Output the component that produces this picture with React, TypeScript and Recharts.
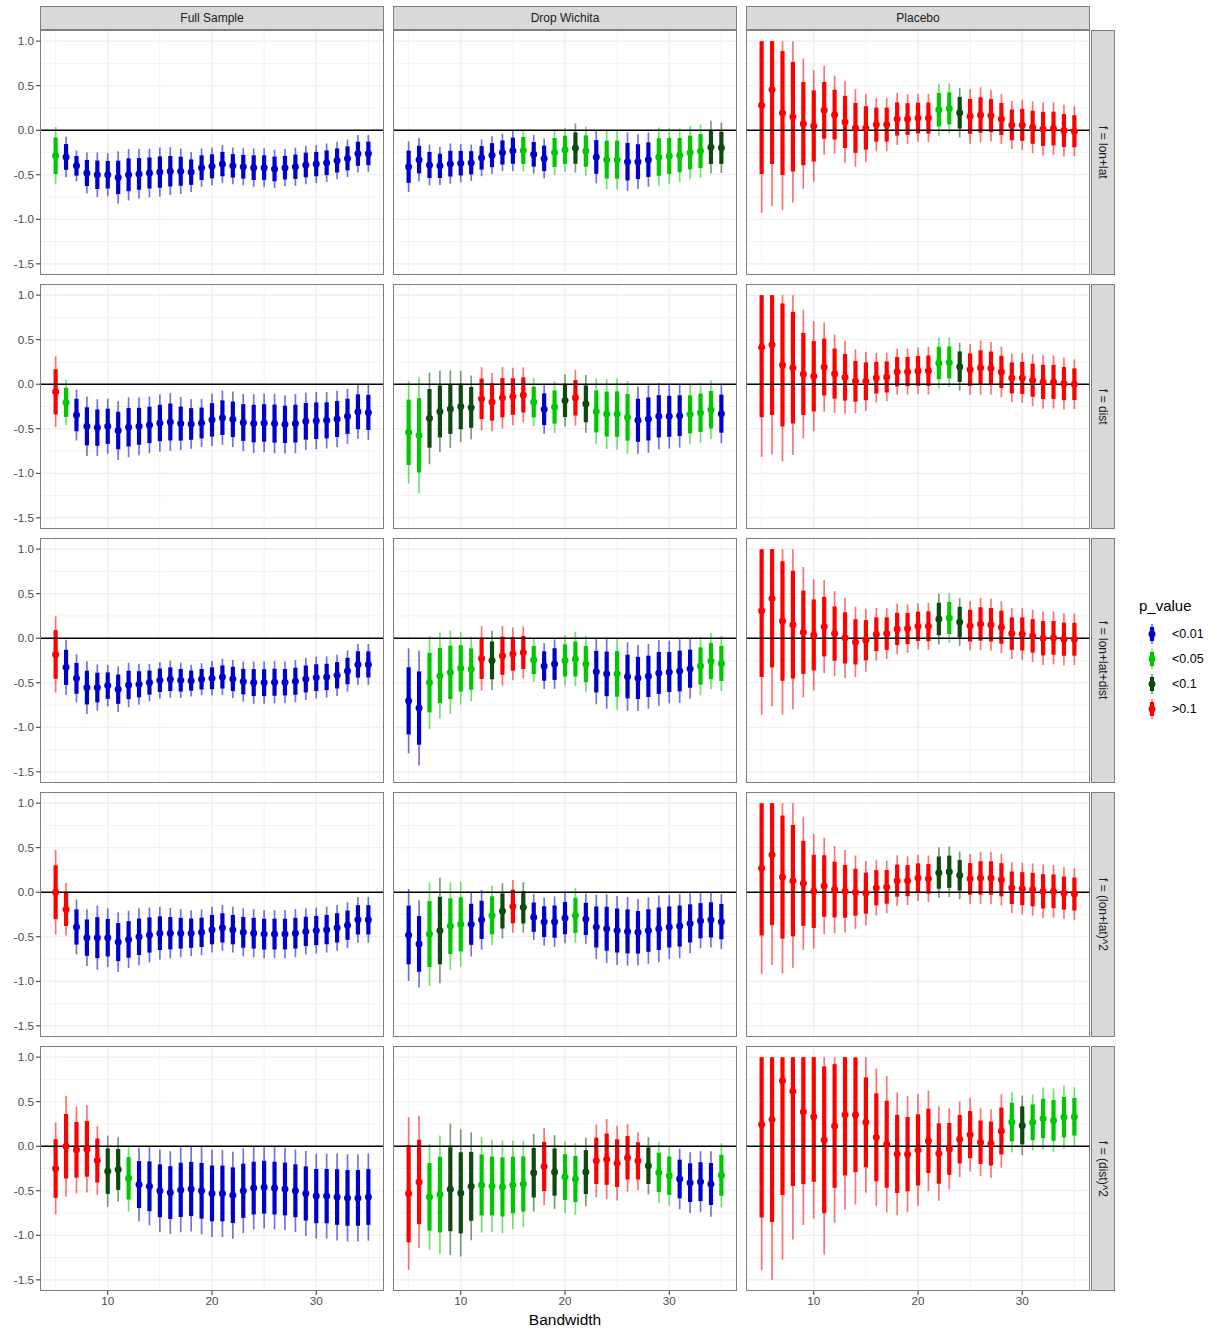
import React from 'react';
import { ComposedChart, Scatter, ErrorBar, XAxis, YAxis, CartesianGrid, ReferenceLine } from 'recharts';

const bandwidths: number[] = [5, 6, 7, 8, 9, 10, 11, 12, 13, 14, 15, 16, 17, 18, 19, 20, 21, 22, 23, 24, 25, 26, 27, 28, 29, 30, 31, 32, 33, 34, 35];
const xTicks = [10, 20, 30];
const yTicks = [-1.5, -1, -0.5, 0, 0.5, 1];
const xMinor = [5, 15, 25, 35];
const yMinor = [-1.25, -0.75, -0.25, 0.25, 0.75];

const pLabels = ['<0.01', '<0.05', '<0.1', '>0.1'];
const pColors = ['#0000CD', '#00C800', '#0D4A0D', '#FF0000'];

const colLabels = ['Full Sample', 'Drop Wichita', 'Placebo'];
const rowLabels = ['f = lon+lat', 'f = dist', 'f = lon+lat+dist', 'f = (lon+lat)^2', 'f = (dist)^2'];

// ---- f = lon+lat ----
const fsLonLatEst = [-0.286, -0.30, -0.40, -0.48, -0.50, -0.50, -0.53, -0.50, -0.49, -0.48, -0.47, -0.46, -0.46, -0.47, -0.42, -0.405, -0.38, -0.40, -0.41, -0.42, -0.42, -0.435, -0.42, -0.41, -0.39, -0.38, -0.365, -0.34, -0.316, -0.264, -0.26];
const fsLonLatSe = [0.125, 0.088, 0.067, 0.089, 0.097, 0.094, 0.114, 0.112, 0.108, 0.106, 0.107, 0.104, 0.099, 0.087, 0.084, 0.082, 0.083, 0.080, 0.081, 0.084, 0.084, 0.084, 0.081, 0.083, 0.084, 0.083, 0.084, 0.082, 0.082, 0.082, 0.080];
const fsLonLatP = [1, 0, 0, 0, 0, 0, 0, 0, 0, 0, 0, 0, 0, 0, 0, 0, 0, 0, 0, 0, 0, 0, 0, 0, 0, 0, 0, 0, 0, 0, 0];

const dwLonLatEst = [-0.41, -0.33, -0.39, -0.40, -0.375, -0.37, -0.365, -0.31, -0.28, -0.25, -0.23, -0.227, -0.27, -0.316, -0.25, -0.22, -0.20, -0.234, -0.30, -0.33, -0.33, -0.353, -0.353, -0.33, -0.30, -0.29, -0.28, -0.25, -0.234, -0.19, -0.197];
const dwLonLatSe = [0.11, 0.094, 0.089, 0.083, 0.088, 0.084, 0.079, 0.080, 0.082, 0.082, 0.089, 0.092, 0.084, 0.087, 0.099, 0.096, 0.107, 0.107, 0.115, 0.129, 0.13, 0.128, 0.119, 0.118, 0.128, 0.123, 0.117, 0.115, 0.116, 0.115, 0.11];
const dwLonLatP = [0, 0, 0, 0, 0, 0, 0, 0, 0, 0, 0, 1, 0, 0, 1, 1, 2, 1, 0, 1, 1, 0, 0, 0, 1, 1, 1, 1, 1, 2, 2];

const plLonLatEst = [0.279, 0.457, 0.193, 0.152, 0.074, 0.048, 0.223, 0.175, 0.093, 0.026, 0.026, 0.063, 0.063, 0.126, 0.126, 0.137, 0.137, 0.23, 0.245, 0.197, 0.156, 0.171, 0.164, 0.126, 0.06, 0.06, 0.033, 0.015, 0.019, -0.004, -0.011];
const plLonLatSe = [0.468, 0.508, 0.423, 0.374, 0.284, 0.243, 0.194, 0.17, 0.178, 0.17, 0.148, 0.116, 0.116, 0.113, 0.108, 0.105, 0.106, 0.114, 0.109, 0.108, 0.119, 0.121, 0.113, 0.109, 0.105, 0.109, 0.113, 0.116, 0.115, 0.113, 0.109];
const plLonLatP = [3, 3, 3, 3, 3, 3, 3, 3, 3, 3, 3, 3, 3, 3, 3, 3, 3, 1, 1, 2, 3, 3, 3, 3, 3, 3, 3, 3, 3, 3, 3];

// ---- f = dist ----
const fsDistEst = [-0.085, -0.204, -0.346, -0.472, -0.487, -0.472, -0.52, -0.483, -0.472, -0.457, -0.435, -0.424, -0.442, -0.446, -0.435, -0.40, -0.375, -0.394, -0.43, -0.442, -0.435, -0.442, -0.45, -0.442, -0.416, -0.409, -0.405, -0.39, -0.36, -0.309, -0.316];
const fsDistSe = [0.154, 0.099, 0.111, 0.13, 0.124, 0.12, 0.128, 0.131, 0.126, 0.124, 0.124, 0.126, 0.116, 0.108, 0.105, 0.114, 0.118, 0.121, 0.125, 0.128, 0.128, 0.13, 0.127, 0.129, 0.125, 0.125, 0.123, 0.123, 0.12, 0.119, 0.12];
const fsDistP = [3, 1, 0, 0, 0, 0, 0, 0, 0, 0, 0, 0, 0, 0, 0, 0, 0, 0, 0, 0, 0, 0, 0, 0, 0, 0, 0, 0, 0, 0, 0];

const dwDistEst = [-0.54, -0.573, -0.383, -0.305, -0.279, -0.25, -0.26, -0.164, -0.2, -0.152, -0.138, -0.12, -0.2, -0.28, -0.256, -0.182, -0.152, -0.22, -0.305, -0.335, -0.335, -0.372, -0.405, -0.39, -0.36, -0.36, -0.353, -0.338, -0.32, -0.286, -0.33];
const dwDistSe = [0.223, 0.253, 0.2, 0.177, 0.169, 0.155, 0.139, 0.138, 0.127, 0.134, 0.125, 0.12, 0.105, 0.108, 0.113, 0.113, 0.121, 0.126, 0.143, 0.153, 0.155, 0.159, 0.147, 0.147, 0.144, 0.14, 0.139, 0.13, 0.131, 0.128, 0.13];
const dwDistP = [1, 1, 2, 2, 2, 2, 2, 3, 3, 3, 3, 3, 1, 0, 1, 2, 3, 2, 1, 1, 1, 1, 0, 0, 0, 0, 0, 1, 1, 1, 0];

const plDistEst = [0.416, 0.442, 0.216, 0.186, 0.115, 0.089, 0.193, 0.119, 0.078, 0.033, 0.033, 0.074, 0.082, 0.141, 0.141, 0.149, 0.152, 0.238, 0.245, 0.197, 0.164, 0.186, 0.178, 0.138, 0.071, 0.071, 0.045, 0.026, 0.026, 0.007, 0.0];
const plDistSe = [0.478, 0.478, 0.42, 0.381, 0.28, 0.24, 0.194, 0.171, 0.159, 0.139, 0.129, 0.108, 0.106, 0.1, 0.1, 0.102, 0.104, 0.111, 0.109, 0.104, 0.111, 0.118, 0.115, 0.11, 0.106, 0.109, 0.113, 0.117, 0.116, 0.113, 0.108];
const plDistP = [3, 3, 3, 3, 3, 3, 3, 3, 3, 3, 3, 3, 3, 3, 3, 3, 3, 1, 1, 2, 3, 3, 3, 3, 3, 3, 3, 3, 3, 3, 3];

// ---- f = lon+lat+dist ----
const fsAllEst = [-0.182, -0.327, -0.45, -0.554, -0.554, -0.532, -0.572, -0.524, -0.517, -0.498, -0.472, -0.46, -0.472, -0.476, -0.46, -0.45, -0.435, -0.457, -0.487, -0.498, -0.498, -0.494, -0.494, -0.483, -0.457, -0.442, -0.435, -0.416, -0.368, -0.294, -0.294];
const fsAllSe = [0.166, 0.12, 0.105, 0.115, 0.101, 0.09, 0.1, 0.097, 0.089, 0.082, 0.08, 0.081, 0.077, 0.069, 0.07, 0.075, 0.079, 0.083, 0.087, 0.092, 0.092, 0.092, 0.09, 0.092, 0.092, 0.091, 0.09, 0.09, 0.09, 0.09, 0.089];
const fsAllP = [3, 0, 0, 0, 0, 0, 0, 0, 0, 0, 0, 0, 0, 0, 0, 0, 0, 0, 0, 0, 0, 0, 0, 0, 0, 0, 0, 0, 0, 0, 0];

const dwAllEst = [-0.703, -0.784, -0.498, -0.42, -0.383, -0.338, -0.346, -0.227, -0.249, -0.197, -0.175, -0.16, -0.245, -0.312, -0.29, -0.249, -0.234, -0.29, -0.375, -0.4, -0.4, -0.43, -0.446, -0.428, -0.39, -0.379, -0.368, -0.342, -0.312, -0.257, -0.283];
const dwAllSe = [0.229, 0.25, 0.203, 0.188, 0.182, 0.158, 0.141, 0.14, 0.129, 0.13, 0.115, 0.113, 0.096, 0.1, 0.108, 0.11, 0.119, 0.123, 0.142, 0.152, 0.156, 0.149, 0.144, 0.141, 0.143, 0.136, 0.139, 0.13, 0.127, 0.123, 0.12];
const dwAllP = [0, 0, 1, 1, 1, 1, 1, 3, 2, 3, 3, 3, 1, 0, 0, 1, 1, 1, 0, 0, 1, 0, 0, 0, 0, 0, 0, 0, 1, 1, 1];

const plAllEst = [0.309, 0.446, 0.193, 0.152, 0.067, 0.037, 0.13, 0.052, 0.004, -0.041, -0.022, 0.045, 0.052, 0.104, 0.108, 0.134, 0.134, 0.216, 0.227, 0.182, 0.141, 0.16, 0.152, 0.123, 0.052, 0.048, 0.026, 0.0, 0.004, -0.011, -0.011];
const plAllSe = [0.453, 0.47, 0.408, 0.368, 0.284, 0.242, 0.203, 0.185, 0.175, 0.154, 0.137, 0.115, 0.111, 0.11, 0.106, 0.1, 0.102, 0.111, 0.11, 0.104, 0.108, 0.114, 0.114, 0.113, 0.111, 0.113, 0.114, 0.117, 0.115, 0.113, 0.112];
const plAllP = [3, 3, 3, 3, 3, 3, 3, 3, 3, 3, 3, 3, 3, 3, 3, 3, 3, 2, 1, 2, 3, 3, 3, 3, 3, 3, 3, 3, 3, 3, 3];

// ---- f = (lon+lat)^2 ----
const fsSqEst = [0.0, -0.19, -0.39, -0.51, -0.51, -0.51, -0.56, -0.53, -0.50, -0.48, -0.46, -0.46, -0.46, -0.46, -0.45, -0.42, -0.40, -0.42, -0.45, -0.46, -0.47, -0.47, -0.47, -0.46, -0.44, -0.43, -0.42, -0.40, -0.37, -0.31, -0.31];
const fsSqSe = [0.184, 0.115, 0.12, 0.124, 0.14, 0.128, 0.13, 0.125, 0.124, 0.12, 0.115, 0.11, 0.105, 0.1, 0.1, 0.1, 0.1, 0.1, 0.105, 0.105, 0.105, 0.105, 0.105, 0.105, 0.1, 0.1, 0.1, 0.1, 0.1, 0.1, 0.1];
const fsSqP = [3, 3, 0, 0, 0, 0, 0, 0, 0, 0, 0, 0, 0, 0, 0, 0, 0, 0, 0, 0, 0, 0, 0, 0, 0, 0, 0, 0, 0, 0, 0];

const dwSqEst = [-0.48, -0.58, -0.47, -0.43, -0.38, -0.36, -0.36, -0.31, -0.26, -0.21, -0.16, -0.17, -0.28, -0.33, -0.33, -0.29, -0.26, -0.30, -0.39, -0.41, -0.43, -0.44, -0.45, -0.43, -0.41, -0.39, -0.38, -0.35, -0.32, -0.31, -0.33];
const dwSqSe = [0.2, 0.19, 0.225, 0.23, 0.19, 0.185, 0.14, 0.13, 0.13, 0.12, 0.115, 0.11, 0.1, 0.105, 0.11, 0.11, 0.12, 0.11, 0.14, 0.15, 0.15, 0.15, 0.145, 0.145, 0.145, 0.14, 0.14, 0.13, 0.12, 0.12, 0.12];
const dwSqP = [0, 0, 1, 2, 1, 1, 0, 0, 1, 2, 3, 2, 0, 0, 0, 0, 1, 0, 0, 0, 0, 0, 0, 0, 0, 0, 0, 0, 0, 0, 0];

const plSqEst = [0.27, 0.42, 0.17, 0.13, 0.1, 0.01, 0.07, 0.03, 0.01, 0.0, -0.01, 0.05, 0.06, 0.13, 0.13, 0.16, 0.15, 0.22, 0.23, 0.19, 0.15, 0.16, 0.16, 0.14, 0.05, 0.04, 0.03, 0.01, 0.01, -0.01, -0.02];
const plSqSe = [0.46, 0.48, 0.42, 0.38, 0.29, 0.25, 0.21, 0.19, 0.18, 0.16, 0.14, 0.12, 0.115, 0.11, 0.106, 0.1, 0.102, 0.11, 0.11, 0.104, 0.108, 0.114, 0.114, 0.113, 0.111, 0.113, 0.114, 0.117, 0.115, 0.113, 0.112];
const plSqP = [3, 3, 3, 3, 3, 3, 3, 3, 3, 3, 3, 3, 3, 3, 3, 3, 3, 2, 2, 2, 3, 3, 3, 3, 3, 3, 3, 3, 3, 3, 3];

// ---- f = (dist)^2 ----
const fsDistSqEst = [-0.25, 0.0, -0.04, -0.03, -0.16, -0.28, -0.26, -0.36, -0.43, -0.45, -0.50, -0.52, -0.49, -0.48, -0.50, -0.53, -0.53, -0.55, -0.50, -0.47, -0.46, -0.47, -0.48, -0.50, -0.53, -0.56, -0.56, -0.57, -0.58, -0.58, -0.57];
const fsDistSqSe = [0.2, 0.22, 0.19, 0.19, 0.15, 0.155, 0.14, 0.145, 0.16, 0.17, 0.18, 0.18, 0.185, 0.185, 0.19, 0.19, 0.19, 0.19, 0.185, 0.18, 0.18, 0.18, 0.18, 0.18, 0.185, 0.185, 0.185, 0.19, 0.19, 0.19, 0.19];
const fsDistSqP = [3, 3, 3, 3, 3, 2, 2, 1, 0, 0, 0, 0, 0, 0, 0, 0, 0, 0, 0, 0, 0, 0, 0, 0, 0, 0, 0, 0, 0, 0, 0];

const dwDistSqEst = [-0.532, -0.401, -0.569, -0.543, -0.483, -0.524, -0.45, -0.435, -0.446, -0.457, -0.435, -0.424, -0.297, -0.227, -0.29, -0.346, -0.368, -0.29, -0.164, -0.145, -0.19, -0.13, -0.164, -0.219, -0.294, -0.331, -0.368, -0.409, -0.398, -0.424, -0.327];
const dwDistSqSe = [0.332, 0.288, 0.231, 0.258, 0.286, 0.277, 0.235, 0.208, 0.201, 0.202, 0.193, 0.188, 0.169, 0.168, 0.161, 0.156, 0.157, 0.15, 0.158, 0.175, 0.163, 0.148, 0.127, 0.125, 0.134, 0.131, 0.132, 0.132, 0.133, 0.143, 0.14];
const dwDistSqP = [3, 3, 1, 1, 2, 2, 2, 1, 1, 1, 1, 1, 2, 3, 2, 1, 1, 2, 3, 3, 3, 3, 3, 2, 1, 1, 0, 0, 0, 0, 1];

const plDistSqEst = [0.245, 0.301, 0.736, 0.617, 0.387, 0.331, 0.071, 0.227, 0.353, 0.353, 0.268, 0.1, 0.022, -0.086, -0.089, -0.041, 0.06, -0.082, -0.03, 0.078, 0.13, 0.045, 0.03, 0.171, 0.271, 0.234, 0.268, 0.312, 0.29, 0.327, 0.331];
const plDistSqSe = [0.636, 0.7, 0.78, 0.646, 0.494, 0.444, 0.5, 0.422, 0.414, 0.391, 0.307, 0.3, 0.297, 0.267, 0.253, 0.243, 0.219, 0.206, 0.177, 0.165, 0.161, 0.148, 0.15, 0.16, 0.132, 0.13, 0.122, 0.135, 0.139, 0.138, 0.128];
const plDistSqP = [3, 3, 3, 3, 3, 3, 3, 3, 3, 3, 3, 3, 3, 3, 3, 3, 3, 3, 3, 3, 3, 3, 3, 3, 1, 2, 1, 1, 1, 1, 1];

type PanelSpec = { est: number[]; se: number[]; p: number[] };
const panels: PanelSpec[][] = [
  [
    { est: fsLonLatEst, se: fsLonLatSe, p: fsLonLatP },
    { est: dwLonLatEst, se: dwLonLatSe, p: dwLonLatP },
    { est: plLonLatEst, se: plLonLatSe, p: plLonLatP },
  ],
  [
    { est: fsDistEst, se: fsDistSe, p: fsDistP },
    { est: dwDistEst, se: dwDistSe, p: dwDistP },
    { est: plDistEst, se: plDistSe, p: plDistP },
  ],
  [
    { est: fsAllEst, se: fsAllSe, p: fsAllP },
    { est: dwAllEst, se: dwAllSe, p: dwAllP },
    { est: plAllEst, se: plAllSe, p: plAllP },
  ],
  [
    { est: fsSqEst, se: fsSqSe, p: fsSqP },
    { est: dwSqEst, se: dwSqSe, p: dwSqP },
    { est: plSqEst, se: plSqSe, p: plSqP },
  ],
  [
    { est: fsDistSqEst, se: fsDistSqSe, p: fsDistSqP },
    { est: dwDistSqEst, se: dwDistSqSe, p: dwDistSqP },
    { est: plDistSqEst, se: plDistSqSe, p: plDistSqP },
  ],
];

// interval multipliers (inner 90%, outer 99%) and display clamp of the y scale
const Z_INNER = 1.645;
const Z_OUTER = 2.576;
const Y_LO = -1.5;
const Y_HI = 1.0;

// layout
const PLOT_W = 344;
const PLOT_H = 245;
const COL_X = [40, 393, 746];
const ROW_Y = [30, 284, 538, 792, 1046];
const Y_AXIS_W = 40;
const X_AXIS_H = 24;
const DOT_R = 3.5;
const FONT = '"Liberation Sans", Arial, Helvetica, sans-serif';

const emptyShape = () => <g />;

function Panel({ spec, showY, showX }: { spec: PanelSpec; showY: boolean; showX: boolean }) {
  const data = bandwidths.map((bw, i) => {
    const e = spec.est[i];
    const s = spec.se[i];
    const lo99 = Math.max(Y_LO, e - Z_OUTER * s);
    const hi99 = Math.min(Y_HI, e + Z_OUTER * s);
    const lo90 = Math.max(Y_LO, e - Z_INNER * s);
    const hi90 = Math.min(Y_HI, e + Z_INNER * s);
    return { bw, est: e, p: spec.p[i], thin: [e - lo99, hi99 - e], thick: [e - lo90, hi90 - e] };
  });
  const groups = pLabels
    .map((lab, ci) => ({ lab, ci, col: pColors[ci], sub: data.filter((d) => d.p === ci) }))
    .filter((g) => g.sub.length > 0);
  const w = PLOT_W + (showY ? Y_AXIS_W : 0);
  const h = PLOT_H + (showX ? X_AXIS_H : 0);
  return (
    <ComposedChart width={w} height={h} margin={{ top: 0, right: 0, bottom: 0, left: 0 }}>
      <CartesianGrid stroke="#EBEBEB" strokeWidth={0.6} verticalValues={xMinor} horizontalValues={yMinor} />
      <CartesianGrid stroke="#EBEBEB" strokeWidth={1.1} verticalValues={xTicks} horizontalValues={yTicks} />
      <XAxis
        type="number"
        dataKey="bw"
        domain={[3.5, 36.5]}
        allowDataOverflow
        ticks={xTicks}
        interval={0}
        hide={!showX}
        height={X_AXIS_H}
        tickSize={4}
        tickMargin={2}
        axisLine={false}
        tickLine={{ stroke: '#333333' }}
        tick={{ fill: '#4D4D4D', fontSize: 11.7, fontFamily: FONT }}
      />
      <YAxis
        type="number"
        dataKey="est"
        domain={[-1.625, 1.125]}
        allowDataOverflow
        ticks={yTicks}
        interval={0}
        hide={!showY}
        width={Y_AXIS_W}
        tickSize={4}
        tickMargin={2}
        axisLine={false}
        tickLine={{ stroke: '#333333' }}
        tickFormatter={(v: number) => v.toFixed(1)}
        tick={{ fill: '#4D4D4D', fontSize: 11.7, fontFamily: FONT }}
      />
      {groups.map((g) => (
        <Scatter
          key={`bars-${g.lab}`}
          name={g.lab}
          data={g.sub}
          dataKey="est"
          fill={g.col}
          isAnimationActive={false}
          shape={emptyShape}
        >
          <ErrorBar dataKey="thin" direction="y" width={0} stroke={g.col} strokeWidth={1.7} strokeOpacity={0.55} isAnimationActive={false} />
          <ErrorBar dataKey="thick" direction="y" width={0} stroke={g.col} strokeWidth={4.2} isAnimationActive={false} />
        </Scatter>
      ))}
      <ReferenceLine y={0} stroke="#000000" strokeWidth={1.3} />
      {groups.map((g) => (
        <Scatter
          key={`dots-${g.lab}`}
          name={g.lab}
          data={g.sub}
          dataKey="est"
          fill={g.col}
          isAnimationActive={false}
          shape={(props: any) => <circle cx={props.cx} cy={props.cy} r={DOT_R} fill={g.col} />}
        />
      ))}
    </ComposedChart>
  );
}

function LegendGlyph({ color }: { color: string }) {
  return (
    <svg width={14} height={22} style={{ display: 'block' }}>
      <line x1={7} x2={7} y1={1} y2={21} stroke={color} strokeWidth={1.7} strokeOpacity={0.55} />
      <line x1={7} x2={7} y1={4} y2={18} stroke={color} strokeWidth={4.2} />
      <circle cx={7} cy={11} r={DOT_R} fill={color} />
    </svg>
  );
}

export default function App() {
  return (
    <div style={{ position: 'absolute', left: 0, top: 0, width: 1215, height: 1332, background: '#FFFFFF', fontFamily: FONT, overflow: 'hidden' }}>
      {colLabels.map((lab, c) => (
        <div
          key={lab}
          style={{
            position: 'absolute', left: COL_X[c], top: 6, width: PLOT_W, height: 24, boxSizing: 'border-box',
            background: '#D9D9D9', border: '1px solid #7F7F7F', color: '#1A1A1A', fontSize: 12,
            display: 'flex', alignItems: 'center', justifyContent: 'center',
          }}
        >
          {lab}
        </div>
      ))}
      {rowLabels.map((lab, r) => (
        <div
          key={lab}
          style={{
            position: 'absolute', left: 1091, top: ROW_Y[r], width: 24, height: PLOT_H, boxSizing: 'border-box',
            background: '#D9D9D9', border: '1px solid #7F7F7F', color: '#1A1A1A', fontSize: 12,
            display: 'flex', alignItems: 'center', justifyContent: 'center',
          }}
        >
          <span style={{ writingMode: 'vertical-rl', whiteSpace: 'nowrap' }}>{lab}</span>
        </div>
      ))}
      {panels.map((row, r) =>
        row.map((spec, c) => {
          const showY = c === 0;
          const showX = r === panels.length - 1;
          return (
            <React.Fragment key={`${r}-${c}`}>
              <div style={{ position: 'absolute', left: COL_X[c] - (showY ? Y_AXIS_W : 0), top: ROW_Y[r] }}>
                <Panel spec={spec} showY={showY} showX={showX} />
              </div>
              <div
                style={{
                  position: 'absolute', left: COL_X[c], top: ROW_Y[r], width: PLOT_W, height: PLOT_H,
                  boxSizing: 'border-box', border: '1px solid #7F7F7F', pointerEvents: 'none',
                }}
              />
            </React.Fragment>
          );
        })
      )}
      <div style={{ position: 'absolute', left: 40, width: 1050, top: 1311, textAlign: 'center', fontSize: 15.5, color: '#000000' }}>
        Bandwidth
      </div>
      <div style={{ position: 'absolute', left: 1139, top: 597, fontSize: 15, color: '#000000' }}>p_value</div>
      {pLabels.map((lab, i) => (
        <div key={lab} style={{ position: 'absolute', left: 1145, top: 623 + i * 25, height: 22, display: 'flex', alignItems: 'center' }}>
          <LegendGlyph color={pColors[i]} />
          <span style={{ marginLeft: 13, fontSize: 12.5, color: '#000000' }}>{lab}</span>
        </div>
      ))}
    </div>
  );
}
